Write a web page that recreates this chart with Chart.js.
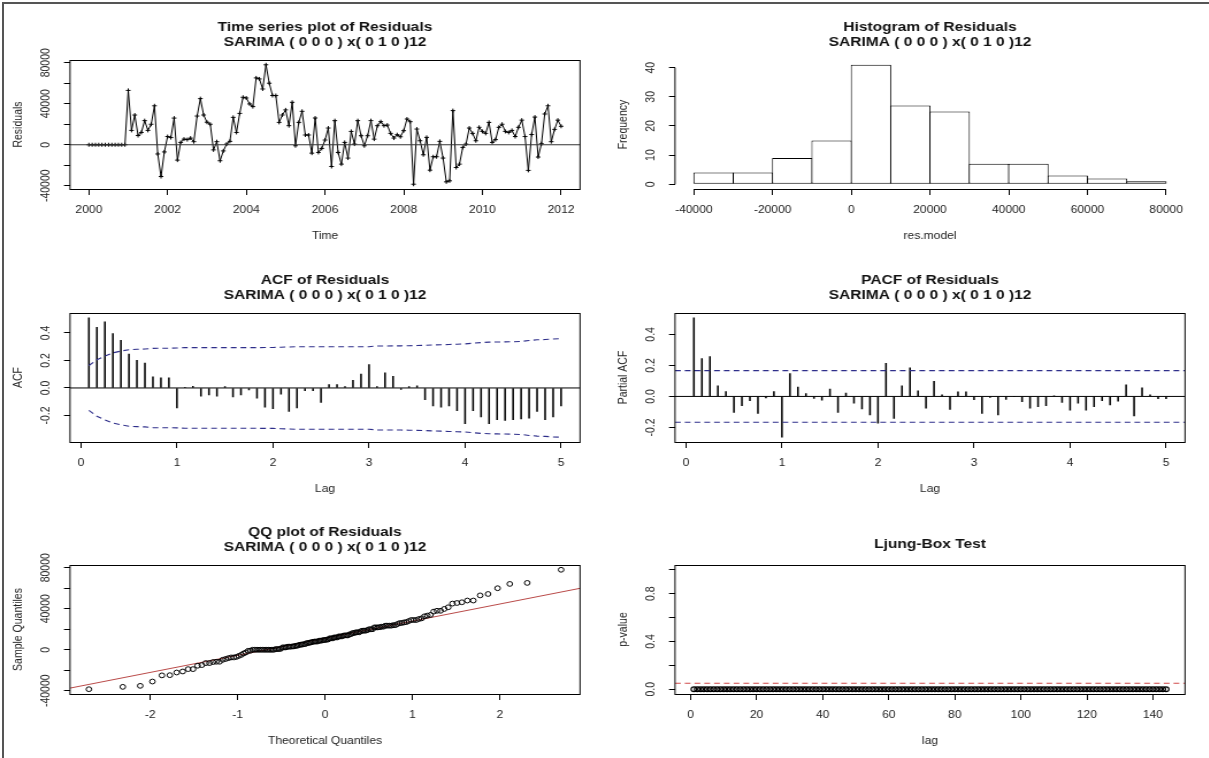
<!DOCTYPE html>
<html lang="en">
<head>
<meta charset="UTF-8">
<title>SARIMA residual diagnostics</title>
<script src="https://cdn.jsdelivr.net/npm/chart.js@4.4.0/dist/chart.umd.min.js"></script>
<style>
  body { margin: 0; background: #fff; }
  #page { position: relative; width: 1209px; height: 758px; overflow: hidden; background: #fff; }
  #page canvas { position: absolute; transform-origin: 0 0; }
  .edge { position: absolute; background: #555; }
</style>
</head>
<body>
<div id="page">
  <canvas id="ts"></canvas>
  <canvas id="hist"></canvas>
  <canvas id="acf"></canvas>
  <canvas id="pacf"></canvas>
  <canvas id="qq"></canvas>
  <canvas id="lb"></canvas>
  <div class="edge" style="left:2px;top:2px;width:2px;height:756px"></div>
  <div class="edge" style="left:2px;top:2px;width:1207px;height:2px"></div>
</div>
<script>
// ---- data ----
const subtitle = 'SARIMA ( 0 0 0 ) x( 0 1 0 )12';
const tsStart = 2000;
// monthly residuals, 2000 Jan .. 2012 Jan
const residuals = [
  0, 0, 0, 0, 0, 0, 0, 0, 0, 0, 0, 0,
  53000, 14000, 29000, 9000, 12000, 23500, 14000, 20000, 38000, -9000, -31000, -7000,
  8000, 7000, 26000, -15000, 2300, 5500, 5000, 6500, 3000, 28000, 45000, 29000,
  22000, 20000, -5000, 3000, -15600, -6000, 650, 3300, 26700, 12000, 30600, 46300,
  45600, 39800, 37200, 65200, 64200, 54400, 78000, 60000, 48000, 48000, 21800, 29000,
  34000, 18600, 41400, -1000, 21800, 32600, 9500, 9500, -8200, 26100, -7500, -3600,
  4600, 16300, -21200, 23500, -7500, -18900, 2300, -13000, 13000, 650, 23500, 8800,
  -1000, 8800, 23500, 5500, 18600, 22500, 18600, 19200, 11100, 6500, 9800, 7800,
  13700, 25100, 22500, -38500, 15300, 3900, -9800, 7200, -24800, -11700, -11700, 3300,
  -13000, -36200, -35200, 33300, -22200, -18900, -2600, 650, 16300, 11100, 3900, 17000,
  13000, 11100, 21800, 2300, 5000, 17000, 20000, 13000, 12000, 14000, 8000, 17000,
  24000, 8000, -25000, 10000, 27000, -12000, 1000, 30000, 38000, 3000, 15000, 24000,
  18000
];
const tsYearTicks = [2000, 2002, 2004, 2006, 2008, 2010, 2012];
const resTicks = [-40000, -20000, 0, 20000, 40000, 60000, 80000];
const resLabelled = [-40000, 0, 40000, 80000];

const histBreaks = [-40000, -30000, -20000, -10000, 0, 10000, 20000, 30000, 40000, 50000, 60000, 70000, 80000];
const histCounts = [4, 4, 9, 15, 41, 27, 25, 7, 7, 3, 2, 1];
const histXTicks = [-40000, -20000, 0, 20000, 40000, 60000, 80000];
const histYTicks = [0, 10, 20, 30, 40];

// lags 1..60 months, shown in years
const acfValues = [
  0.51, 0.44, 0.48, 0.395, 0.347, 0.247, 0.20, 0.18, 0.08, 0.073, 0.073, -0.145,
  0.003, 0.012, -0.06, -0.05, -0.06, 0.01, -0.065, -0.05, -0.015, -0.075, -0.14, -0.15,
  -0.045, -0.17, -0.145, -0.02, -0.02, -0.105, 0.025, 0.025, 0.01, 0.055, 0.10, 0.17,
  0.01, 0.11, 0.085, -0.01, 0.01, 0.015, -0.085, -0.13, -0.14, -0.13, -0.165, -0.26,
  -0.165, -0.21, -0.26, -0.23, -0.235, -0.23, -0.225, -0.22, -0.17, -0.23, -0.21, -0.13
];
const acfBound = [
  0.163, 0.205, 0.232, 0.255, 0.268, 0.278, 0.281, 0.283, 0.288, 0.289, 0.289, 0.290,
  0.293, 0.293, 0.293, 0.293, 0.293, 0.293, 0.293, 0.293, 0.293, 0.293, 0.294, 0.294,
  0.296, 0.298, 0.300, 0.300, 0.300, 0.300, 0.300, 0.300, 0.300, 0.300, 0.300, 0.300,
  0.305, 0.305, 0.306, 0.306, 0.307, 0.308, 0.310, 0.312, 0.314, 0.316, 0.318, 0.320,
  0.325, 0.330, 0.333, 0.334, 0.335, 0.336, 0.338, 0.345, 0.350, 0.352, 0.356, 0.358
];
const pacfValues = [
  0.507, 0.244, 0.257, 0.068, 0.032, -0.103, -0.06, -0.028, -0.109, -0.01, 0.032, -0.263,
  0.148, 0.06, 0.019, -0.013, -0.024, 0.047, -0.103, 0.021, -0.043, -0.081, -0.12, -0.173,
  0.214, -0.141, 0.068, 0.184, 0.036, -0.075, 0.098, 0.011, -0.084, 0.03, 0.03, -0.021,
  -0.109, -0.006, -0.12, -0.02, 0.0, -0.034, -0.075, -0.066, -0.06, 0.004, -0.038, -0.088,
  -0.043, -0.088, -0.066, -0.028, -0.054, -0.03, 0.075, -0.125, 0.055, 0.01, -0.015, -0.015
];
const pacfLimit = 0.166;
const lagTicks = [0, 1, 2, 3, 4, 5];
const acfTicks = [-0.2, 0, 0.2, 0.4];

const qqXTicks = [-2, -1, 0, 1, 2];

const lbPValues = [
  0, 0, 0, 0, 0, 0, 0, 0, 0, 0, 0, 0,
  0, 0, 0, 0, 0, 0, 0, 0, 0, 0, 0, 0,
  0, 0, 0, 0, 0, 0, 0, 0, 0, 0, 0, 0,
  0, 0, 0, 0, 0, 0, 0, 0, 0, 0, 0, 0,
  0, 0, 0, 0, 0, 0, 0, 0, 0, 0, 0, 0,
  0, 0, 0, 0, 0, 0, 0, 0, 0, 0, 0, 0,
  0, 0, 0, 0, 0, 0, 0, 0, 0, 0, 0, 0,
  0, 0, 0, 0, 0, 0, 0, 0, 0, 0, 0, 0,
  0, 0, 0, 0, 0, 0, 0, 0, 0, 0, 0, 0,
  0, 0, 0, 0, 0, 0, 0, 0, 0, 0, 0, 0,
  0, 0, 0, 0, 0, 0, 0, 0, 0, 0, 0, 0,
  0, 0, 0, 0, 0, 0, 0, 0, 0, 0, 0, 0
];
const lbLevel = 0.05;
const lbXTicks = [0, 20, 40, 60, 80, 100, 120, 140];
const lbYTicks = [0, 0.2, 0.4, 0.6, 0.8, 1];
const lbYLabelled = [0, 0.4, 0.8];

// ---- look ----
// the source image is a little wider than tall, so panels are drawn narrow and stretched
const STRETCH = 1.15;
const FONT = '"Liberation Sans", Arial, sans-serif';
const INK = '#222';
const CI_BLUE = '#2e2e8a';
const QQ_RED = '#b94a48';
const PANEL_W = Math.round(604 / STRETCH), PANEL_H = 253;
const BOX = { left: 70 / STRETCH, right: 580 / STRETCH, top: 60, bottom: 189 };
const TICK_SIZE = 10.5, LAB_SIZE = 10.5, MAIN_SIZE = 13.5;

const measureCtx = document.createElement('canvas').getContext('2d');
function textWidth(t) {
  measureCtx.font = TICK_SIZE + 'px ' + FONT;
  return measureCtx.measureText(t).width;
}

// R pads the data range by 4% on each side
function rRange(values) {
  const lo = Math.min(...values), hi = Math.max(...values);
  const pad = (hi - lo) * 0.04;
  return [lo - pad, hi + pad];
}

function qnorm(p) {
  const a = [-3.969683028665376e+01, 2.209460984245205e+02, -2.759285104469687e+02, 1.383577518672690e+02, -3.066479806614716e+01, 2.506628277459239e+00];
  const b = [-5.447609879822406e+01, 1.615858368580409e+02, -1.556989798598866e+02, 6.680131188771972e+01, -1.328068155288572e+01];
  const c = [-7.784894002430293e-03, -3.223964580411365e-01, -2.400758277161838e+00, -2.549732539343734e+00, 4.374664141464968e+00, 2.938163982698783e+00];
  const d = [7.784695709041462e-03, 3.224671290700398e-01, 2.445134137142996e+00, 3.754408661907416e+00];
  const tail = q => (((((c[0]*q+c[1])*q+c[2])*q+c[3])*q+c[4])*q+c[5]) / ((((d[0]*q+d[1])*q+d[2])*q+d[3])*q+1);
  if (p < 0.02425) return tail(Math.sqrt(-2 * Math.log(p)));
  if (p > 1 - 0.02425) return -tail(Math.sqrt(-2 * Math.log(1 - p)));
  const q = p - 0.5, r = q * q;
  return (((((a[0]*r+a[1])*r+a[2])*r+a[3])*r+a[4])*r+a[5])*q / (((((b[0]*r+b[1])*r+b[2])*r+b[3])*r+b[4])*r+1);
}
function quantile(sorted, p) {
  const h = (sorted.length - 1) * p, lo = Math.floor(h);
  return sorted[lo] + (h - lo) * ((sorted[lo + 1] ?? sorted[lo]) - sorted[lo]);
}

function xAxis(range, ticks, title, fmt) {
  const labLine = LAB_SIZE * 1.2;
  return {
    type: 'linear', position: 'bottom', min: range[0], max: range[1], bounds: 'data', offset: false,
    afterBuildTicks: s => { s.ticks = ticks.map(v => ({ value: v })); },
    afterFit: s => { s.height = PANEL_H - BOX.bottom; s.paddingLeft = 0; s.paddingRight = 0; },
    border: { display: false },
    grid: { offset: false, drawOnChartArea: false, drawTicks: true, tickLength: 6, color: '#000', lineWidth: 1 },
    ticks: { autoSkip: false, minRotation: 0, maxRotation: 0, padding: 21 - 6 - TICK_SIZE * 0.6, color: INK,
      font: { family: FONT, size: TICK_SIZE }, callback: v => fmt(v) },
    title: { display: true, text: title, color: INK, font: { family: FONT, size: LAB_SIZE },
      padding: { top: 0, bottom: (PANEL_H - BOX.bottom - 47) - labLine / 2 } }
  };
}

function yAxis(range, ticks, labelled, title, fmt) {
  const shown = ticks.filter(v => labelled.includes(v)).map(fmt);
  const widest = Math.max(...shown.map(textWidth));
  const tl = 6 / STRETCH;
  return {
    type: 'linear', position: 'left', min: range[0], max: range[1], bounds: 'data',
    afterBuildTicks: s => { s.ticks = ticks.map(v => ({ value: v })); },
    afterFit: s => { s.width = BOX.left; s.paddingTop = 0; s.paddingBottom = 0; },
    border: { display: false },
    grid: { drawOnChartArea: false, drawTicks: true, tickLength: tl, color: '#000', lineWidth: 1 },
    ticks: { autoSkip: false, minRotation: 90, maxRotation: 90, crossAlign: 'center',
      padding: BOX.left - tl - 46 / STRETCH - widest / 2, color: INK, font: { family: FONT, size: TICK_SIZE },
      callback: v => labelled.includes(v) ? fmt(v) : '' },
    title: { display: true, text: title, color: INK, font: { family: FONT, size: LAB_SIZE },
      padding: { top: 18.5 / STRETCH - LAB_SIZE * 0.6, bottom: 0 } }
  };
}

function options(title, x, y, titleCenter) {
  const lines = Array.isArray(title) ? title.length : 1;
  const padTop = titleCenter - 7.5;
  return {
    responsive: false, animation: false, events: [],
    layout: { padding: { left: 0, top: 0, bottom: 0, right: PANEL_W - BOX.right } },
    plugins: {
      legend: { display: false },
      tooltip: { enabled: false },
      title: { display: true, text: title, fullSize: false, color: '#111',
        font: { family: FONT, size: MAIN_SIZE, weight: 'bold', lineHeight: 15 / MAIN_SIZE },
        padding: { top: padTop, bottom: BOX.top - padTop - lines * 15 } }
    },
    scales: { x, y }
  };
}

// plot frame like R's box()
const rBox = {
  id: 'rBox',
  afterDraw(chart) {
    const a = chart.chartArea, ctx = chart.ctx;
    ctx.save();
    ctx.strokeStyle = '#000'; ctx.lineWidth = 1;
    ctx.strokeRect(a.left, Math.round(a.top) + 0.5, a.right - a.left, Math.round(a.bottom - a.top));
    ctx.restore();
  }
};
// R axis lines run from first to last tick
const rAxisLines = {
  id: 'rAxisLines',
  afterDraw(chart) {
    const { x, y } = chart.scales, ctx = chart.ctx, a = chart.chartArea;
    const by = Math.round(a.bottom) + 0.5;
    ctx.save();
    ctx.strokeStyle = '#000'; ctx.lineWidth = 1;
    ctx.beginPath();
    ctx.moveTo(x.getPixelForValue(x.ticks[0].value), by);
    ctx.lineTo(x.getPixelForValue(x.ticks[x.ticks.length - 1].value), by);
    ctx.moveTo(a.left, y.getPixelForValue(y.ticks[0].value));
    ctx.lineTo(a.left, y.getPixelForValue(y.ticks[y.ticks.length - 1].value));
    ctx.stroke();
    ctx.restore();
  }
};

function panel(id, left, top) {
  const cv = document.getElementById(id);
  cv.width = PANEL_W; cv.height = PANEL_H;
  cv.style.left = left + 'px'; cv.style.top = top + 'px';
  cv.style.width = PANEL_W + 'px'; cv.style.height = PANEL_H + 'px';
  cv.style.transform = 'scaleX(' + STRETCH + ')';
  return cv;
}
const num = v => String(v);
const dec1 = v => v.toFixed(1);

// ---- time series ----
const tsTimes = residuals.map((v, i) => tsStart + i / 12);
const tsXR = rRange(tsTimes), tsYR = rRange(residuals);
new Chart(panel('ts', 0, 0), {
  type: 'scatter',
  data: { datasets: [
    { data: [{ x: tsXR[0], y: 0 }, { x: tsXR[1], y: 0 }], showLine: true, borderColor: '#333', borderWidth: 1.2, pointRadius: 0 },
    { data: residuals.map((v, i) => ({ x: tsTimes[i], y: v })), showLine: true, borderColor: '#000', borderWidth: 1,
      pointStyle: 'cross', pointRadius: 2, pointBorderColor: '#000', pointBorderWidth: 1 }
  ] },
  options: options(['Time series plot of Residuals', subtitle],
    xAxis(tsXR, tsYearTicks, 'Time', num),
    yAxis(tsYR, resTicks, resLabelled, 'Residuals', num), 27),
  plugins: [rBox]
});

// ---- histogram ----
const histCenters = histCounts.map((c, i) => (histBreaks[i] + histBreaks[i + 1]) / 2);
new Chart(panel('hist', 605, 0), {
  type: 'bar',
  data: { datasets: [
    { data: histCounts.map((c, i) => ({ x: histCenters[i], y: c })), backgroundColor: '#fff', borderColor: '#000',
      borderWidth: 1, borderSkipped: false, barPercentage: 1.028, categoryPercentage: 1 }
  ] },
  options: options(['Histogram of Residuals', subtitle],
    xAxis(rRange(histBreaks), histXTicks, 'res.model', num),
    yAxis(rRange([0, ...histCounts]), histYTicks, histYTicks, 'Frequency', num), 27),
  plugins: [rAxisLines]
});

// ---- ACF / PACF ----
const lags = acfValues.map((v, i) => (i + 1) / 12);
const lagXR = rRange(lags);
function stickChart(id, left, top, title, yLabel, values, upper, lower, yR) {
  return new Chart(panel(id, left, top), {
    type: 'bar',
    data: { datasets: [
      { type: 'line', data: [{ x: lagXR[0], y: 0 }, { x: lagXR[1], y: 0 }], borderColor: '#000', borderWidth: 1, pointRadius: 0 },
      { type: 'line', data: upper, borderColor: CI_BLUE, borderWidth: 1.1, borderDash: [5, 3.5], pointRadius: 0 },
      { type: 'line', data: lower, borderColor: CI_BLUE, borderWidth: 1.1, borderDash: [5, 3.5], pointRadius: 0 },
      { type: 'bar', data: values.map((v, i) => ({ x: lags[i], y: v })), backgroundColor: '#000', barThickness: 0.9 }
    ] },
    options: options([title, subtitle],
      xAxis(lagXR, lagTicks, 'Lag', num),
      yAxis(yR, acfTicks, acfTicks, yLabel, dec1), 27),
    plugins: [rBox]
  });
}
stickChart('acf', 0, 253, 'ACF of Residuals', 'ACF', acfValues,
  acfBound.map((v, i) => ({ x: lags[i], y: v })),
  acfBound.map((v, i) => ({ x: lags[i], y: -v })),
  rRange([...acfValues, ...acfBound, ...acfBound.map(v => -v)]));
stickChart('pacf', 605, 253, 'PACF of Residuals', 'Partial ACF', pacfValues,
  [{ x: lagXR[0], y: pacfLimit }, { x: lagXR[1], y: pacfLimit }],
  [{ x: lagXR[0], y: -pacfLimit }, { x: lagXR[1], y: -pacfLimit }],
  rRange([...pacfValues, pacfLimit, -pacfLimit]));

// ---- QQ plot ----
const qqSample = residuals.slice().sort((a, b) => a - b);
const qqTheory = qqSample.map((v, i) => qnorm((i + 0.5) / qqSample.length));
const qx1 = qnorm(0.25), qx2 = qnorm(0.75);
const qy1 = quantile(qqSample, 0.25), qy2 = quantile(qqSample, 0.75);
const qqSlope = (qy2 - qy1) / (qx2 - qx1), qqIcpt = qy1 - qqSlope * qx1;
const qqXR = rRange(qqTheory);
new Chart(panel('qq', 0, 505), {
  type: 'scatter',
  data: { datasets: [
    { data: qqSample.map((v, i) => ({ x: qqTheory[i], y: v })), pointStyle: 'circle', pointRadius: 2.4,
      pointBorderWidth: 1, pointBorderColor: '#000', pointBackgroundColor: 'rgba(0,0,0,0)' },
    { data: qqXR.map(x => ({ x, y: qqIcpt + qqSlope * x })), showLine: true, borderColor: QQ_RED, borderWidth: 1, pointRadius: 0 }
  ] },
  options: options(['QQ plot of Residuals', subtitle],
    xAxis(qqXR, qqXTicks, 'Theoretical Quantiles', num),
    yAxis(rRange(qqSample), resTicks, resLabelled, 'Sample Quantiles', num), 27),
  plugins: [rBox]
});

// ---- Ljung-Box ----
const lbLags = lbPValues.map((v, i) => i + 1);
const lbXR = rRange(lbLags);
new Chart(panel('lb', 605, 505), {
  type: 'scatter',
  data: { datasets: [
    { data: lbXR.map(x => ({ x, y: lbLevel })), showLine: true, borderColor: '#d04848', borderWidth: 1.1, borderDash: [5, 3.5], pointRadius: 0 },
    { data: lbPValues.map((v, i) => ({ x: lbLags[i], y: v })), pointStyle: 'circle', pointRadius: 2.4,
      pointBorderWidth: 1.2, pointBorderColor: '#000', pointBackgroundColor: 'rgba(0,0,0,0)' }
  ] },
  options: options('Ljung-Box Test',
    xAxis(lbXR, lbXTicks, 'lag', num),
    yAxis(rRange([0, 1]), lbYTicks, lbYLabelled, 'p-value', dec1), 39),
  plugins: [rBox]
});
</script>
</body>
</html>
